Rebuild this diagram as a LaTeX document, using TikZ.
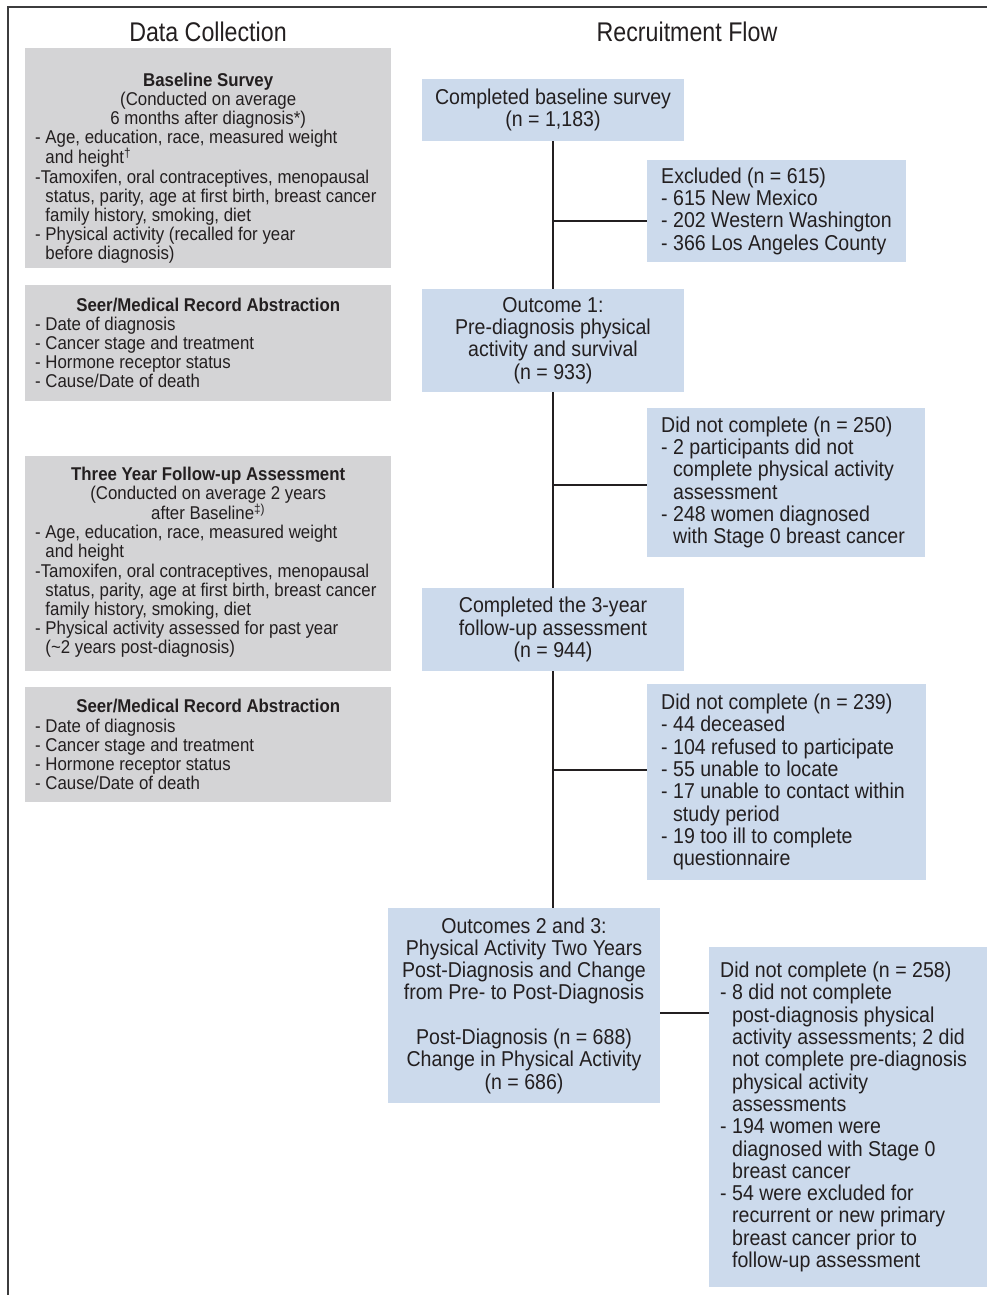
\documentclass[tikz,border=0pt]{standalone}
\usepackage{fontspec}
\setmainfont{Liberation Sans}[FakeStretch=0.91]
\newfontfamily\headfont{Liberation Sans}[FakeStretch=0.86]
\definecolor{boxblue}{RGB}{204,218,236}
\definecolor{boxgray}{RGB}{212,212,214}
\definecolor{ink}{RGB}{35,31,32}
\definecolor{framec}{RGB}{60,60,62}
\newcommand\hi{\phantom{-\ }}
\newcommand\ctl[1]{\makebox[346pt][c]{#1}}
\begin{document}
\begin{tikzpicture}[x=1pt,y=-1pt,
  head/.style={font=\headfont\fontsize{27}{30}\selectfont, text=ink, inner sep=0pt},
  graybox/.style={fill=boxgray, draw=none, inner sep=0pt, outer sep=0pt, minimum width=366pt, anchor=north west},
  graytext/.style={font=\fontsize{18.5}{19.1}\selectfont, text=ink, align=left, inner sep=0pt, anchor=west},
  flowbox/.style={fill=boxblue, draw=none, inner sep=0pt, outer sep=0pt, align=center, text=ink,
     font=\fontsize{21.5}{22.3}\selectfont, anchor=north west},
  sidebox/.style={fill=boxblue, draw=none, inner sep=0pt, outer sep=0pt, anchor=north west},
  sidetext/.style={font=\fontsize{21.5}{22.3}\selectfont, text=ink, align=left, inner sep=0pt, anchor=west},
  conn/.style={draw=ink, line width=1.6pt},
  frameline/.style={draw=framec, line width=2pt}
]
\useasboundingbox (0,0) rectangle (987,1295);

% frame
\draw[frameline] (8,1295) -- (8,7) -- (987,7);

% headers
\node[head] (hdc) at (208,32) {Data Collection};
\node[head] (hrf) at (687,32) {Recruitment Flow};

% ---- left column ----
\node[graybox, minimum height=220pt] (g1) at (25,48) {};
\node[graytext] (g1t) at (35,168) {%
\ctl{\bfseries Baseline Survey}\\
\ctl{(Conducted on average}\\
\ctl{6 months after diagnosis*)}\\
- Age, education, race, measured weight\\
\hi and height\textsuperscript{†}\\
-Tamoxifen, oral contraceptives, menopausal\\
\hi status, parity, age at first birth, breast cancer\\
\hi family history, smoking, diet\\
- Physical activity (recalled for year\\
\hi before diagnosis)};

\node[graybox, minimum height=116pt] (g2) at (25,285) {};
\node[graytext] (g2t) at (35,343) {%
\ctl{\bfseries Seer/Medical Record Abstraction}\\
- Date of diagnosis\\
- Cancer stage and treatment\\
- Hormone receptor status\\
- Cause/Date of death};

\node[graybox, minimum height=215pt] (g3) at (25,456) {};
\node[graytext] (g3t) at (35,562) {%
\ctl{\bfseries Three Year Follow-up Assessment}\\
\ctl{(Conducted on average 2 years}\\
\ctl{after Baseline\textsuperscript{‡)}}\\
- Age, education, race, measured weight\\
\hi and height\\
-Tamoxifen, oral contraceptives, menopausal\\
\hi status, parity, age at first birth, breast cancer\\
\hi family history, smoking, diet\\
- Physical activity assessed for past year\\
\hi (\textasciitilde 2 years post-diagnosis)};

\node[graybox, minimum height=115pt] (g4) at (25,687) {};
\node[graytext] (g4t) at (35,744.5) {%
\ctl{\bfseries Seer/Medical Record Abstraction}\\
- Date of diagnosis\\
- Cancer stage and treatment\\
- Hormone receptor status\\
- Cause/Date of death};

% ---- right column: main flow ----
\node[flowbox, minimum width=262pt, minimum height=62pt] (r1) at (422,79)
  {Completed baseline survey\\(n = 1,183)};
\node[flowbox, minimum width=262pt, minimum height=103pt] (o1) at (422,289)
  {Outcome 1:\\Pre-diagnosis physical\\activity and survival\\(n = 933)};
\node[flowbox, minimum width=262pt, minimum height=83pt] (t3) at (422,588)
  {Completed the 3-year\\follow-up assessment\\(n = 944)};
\node[flowbox, minimum width=272pt, minimum height=195pt] (o23) at (388,908)
  {Outcomes 2 and 3:\\Physical Activity Two Years\\Post-Diagnosis and Change\\from Pre- to Post-Diagnosis\\[22.3pt]
   Post-Diagnosis (n = 688)\\Change in Physical Activity\\(n = 686)};

% ---- right column: exclusions ----
\node[sidebox, minimum width=259pt, minimum height=102pt] (ex1) at (647,160) {};
\node[sidetext] (ex1t) at ([xshift=14pt]ex1.west) {%
Excluded (n = 615)\\
- 615 New Mexico\\
- 202 Western Washington\\
- 366 Los Angeles County};

\node[sidebox, minimum width=278pt, minimum height=149pt] (ex2) at (647,408) {};
\node[sidetext] (ex2t) at ([xshift=14pt]ex2.west) {%
Did not complete (n = 250)\\
- 2 participants did not\\
\hi complete physical activity\\
\hi assessment\\
- 248 women diagnosed\\
\hi with Stage 0 breast cancer};

\node[sidebox, minimum width=279pt, minimum height=196pt] (ex3) at (647,684) {};
\node[sidetext] (ex3t) at ([xshift=14pt]ex3.west) {%
Did not complete (n = 239)\\
- 44 deceased\\
- 104 refused to participate\\
- 55 unable to locate\\
- 17 unable to contact within\\
\hi study period\\
- 19 too ill to complete\\
\hi questionnaire};

\node[sidebox, minimum width=278pt, minimum height=340pt] (ex4) at (709,947) {};
\node[sidetext] (ex4t) at ([xshift=11pt]ex4.west) {%
Did not complete (n = 258)\\
- 8 did not complete\\
\hi post-diagnosis physical\\
\hi activity assessments; 2 did\\
\hi not complete pre-diagnosis\\
\hi physical activity\\
\hi assessments\\
- 194 women were\\
\hi diagnosed with Stage 0\\
\hi breast cancer\\
- 54 were excluded for\\
\hi recurrent or new primary\\
\hi breast cancer prior to\\
\hi follow-up assessment};

% ---- connectors ----
\draw[conn] (r1.south) -- (o1.north);
\draw[conn] (o1.south) -- (t3.north);
\draw[conn] (t3.south) -- (t3.south |- o23.north);
\coordinate (j1) at (553,221);
\coordinate (j2) at (553,485);
\coordinate (j3) at (553,770);
\coordinate (j4) at (660,1013);
\draw[conn] (j1) -- (j1 -| ex1.west);
\draw[conn] (j2) -- (j2 -| ex2.west);
\draw[conn] (j3) -- (j3 -| ex3.west);
\draw[conn] (j4 -| o23.east) -- (j4 -| ex4.west);
\end{tikzpicture}
\end{document}
